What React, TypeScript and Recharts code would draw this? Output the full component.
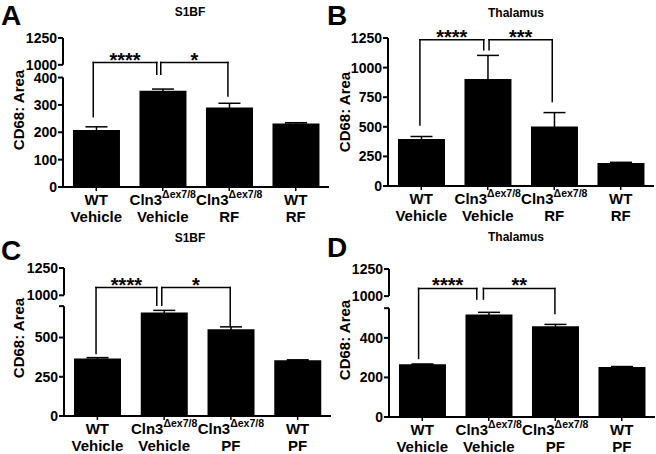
import React from 'react';
import { BarChart, Bar, XAxis, YAxis, ErrorBar, ReferenceLine } from 'recharts';

const FONT = '"Liberation Sans", Arial, Helvetica, sans-serif';

// ---- categories ----
const genotypes = ['WT', 'Cln3', 'Cln3', 'WT'];
const treatmentsRF = ['Vehicle', 'Vehicle', 'RF', 'RF'];
const treatmentsPF = ['Vehicle', 'Vehicle', 'PF', 'PF'];

// ---- series values (mean, SEM) ----
const s1bfRF = [208, 352, 291, 232];
const s1bfRFErr = [12, 6, 15, 3];
const thalRF = [396, 903, 502, 195];
const thalRFErr = [22, 200, 118, 5];
const s1bfPF = [366, 659, 553, 355];
const s1bfPFErr = [6, 14, 15, 3];
const thalPF = [266, 518, 459, 253];
const thalPFErr = [2, 11, 9, 2];

// ---- y axis ticks ----
const ticksA = [0, 100, 200, 300, 400, 1000, 1250];
const ticksB = [0, 250, 500, 750, 1000, 1250];
const ticksC = [0, 250, 500, 700, 1000, 1250];
const ticksD = [0, 200, 400, 550, 1000, 1250];
const unlabeledC = [700];
const unlabeledD = [550];

// ---- axis breaks (lower segment max, upper segment range, gap & compression in axis units) ----
type Brk = { lowMax: number; hiMin: number; hiMax: number; gap: number; hiScale: number } | null;
const breakA: Brk = { lowMax: 400, hiMin: 1000, hiMax: 1250, gap: 46.6, hiScale: 0.392 };
const breakC: Brk = { lowMax: 700, hiMin: 1000, hiMax: 1250, gap: 69, hiScale: 0.696 };
const breakD: Brk = { lowMax: 550, hiMin: 1000, hiMax: 1250, gap: 61, hiScale: 0.548 };

// ---- significance brackets: x in category units (0..4), y in axis units ----
type Bracket = { x1: number; x2: number; y1: number; y2: number; top: number; stars: string };
const bracketsA: Bracket[] = [
  { x1: 0.455, x2: 1.41, y1: 257, y2: 412, top: 455, stars: '****' },
  { x1: 1.47, x2: 2.48, y1: 412, y2: 333, top: 455, stars: '*' },
];
const bracketsB: Bracket[] = [
  { x1: 0.48, x2: 1.44, y1: 516, y2: 1151, top: 1236, stars: '****' },
  { x1: 1.52, x2: 2.47, y1: 1151, y2: 713, top: 1236, stars: '***' },
];
const bracketsC: Bracket[] = [
  { x1: 0.48, x2: 1.39, y1: 399, y2: 706, top: 818, stars: '****' },
  { x1: 1.465, x2: 2.49, y1: 706, y2: 572, top: 818, stars: '*' },
];
const bracketsD: Bracket[] = [
  { x1: 0.445, x2: 1.32, y1: 296, y2: 596, top: 650, stars: '****' },
  { x1: 1.42, x2: 2.495, y1: 596, y2: 523, top: 650, stars: '**' },
];

const toAxis = (v: number, brk: Brk) => {
  if (!brk || v <= brk.lowMax) return v;
  return brk.lowMax + brk.gap + (v - brk.hiMin) * brk.hiScale;
};

type PanelCfg = {
  letter: string;
  title: string;
  treat: string[];
  values: number[];
  errs: number[];
  ticks: number[];
  unlabeled: number[];
  brk: Brk;
  yMax: number;
  brackets: Bracket[];
  left: number;
  top: number;
  width: number;
  height: number;
  yW: number;
  mTop: number;
  mRight: number;
  xH: number;
  letterPos: [number, number];
  titlePos: [number, number];
  ylabPos: [number, number];
};

const panels: PanelCfg[] = [
  {
    letter: 'A', title: 'S1BF', treat: treatmentsRF, values: s1bfRF, errs: s1bfRFErr,
    ticks: ticksA, unlabeled: [], brk: breakA, yMax: 1250, brackets: bracketsA,
    left: 0, top: 0, width: 332, height: 224, yW: 63, mTop: 38, mRight: 3, xH: 37,
    letterPos: [1, 25], titlePos: [190, 16], ylabPos: [24, 110],
  },
  {
    letter: 'B', title: 'Thalamus', treat: treatmentsRF, values: thalRF, errs: thalRFErr,
    ticks: ticksB, unlabeled: [], brk: null, yMax: 1250, brackets: bracketsB,
    left: 326, top: 0, width: 330, height: 224, yW: 62, mTop: 38, mRight: 2, xH: 38,
    letterPos: [327, 25], titlePos: [516, 17], ylabPos: [350, 112],
  },
  {
    letter: 'C', title: 'S1BF', treat: treatmentsPF, values: s1bfPF, errs: s1bfPFErr,
    ticks: ticksC, unlabeled: unlabeledC, brk: breakC, yMax: 1250, brackets: bracketsC,
    left: 0, top: 224, width: 333, height: 230, yW: 64, mTop: 44, mRight: 2, xH: 38,
    letterPos: [1, 260], titlePos: [190, 242], ylabPos: [24, 338],
  },
  {
    letter: 'D', title: 'Thalamus', treat: treatmentsPF, values: thalPF, errs: thalPFErr,
    ticks: ticksD, unlabeled: unlabeledD, brk: breakD, yMax: 1250, brackets: bracketsD,
    left: 326, top: 224, width: 330, height: 230, yW: 63, mTop: 45, mRight: 1, xH: 37,
    letterPos: [327, 257], titlePos: [516, 241], ylabPos: [350, 340],
  },
];

function CatTick(props: any) {
  const { x, y, payload } = props;
  const [g, t] = String(payload.value).split('|');
  const common = { textAnchor: 'middle' as const, fontFamily: FONT, fontWeight: 700, fill: '#000' };
  return (
    <g>
      <text x={x} y={y + 12} fontSize={15} {...common}>
        {g === 'Cln3' ? (
          <>
            <tspan>Cln3</tspan>
            <tspan fontSize={10.5} dy={-7}>Δex7/8</tspan>
          </>
        ) : (
          g
        )}
      </text>
      <text x={x} y={y + 28.5} fontSize={15} {...common}>
        {t}
      </text>
    </g>
  );
}

function Panel({ cfg }: { cfg: PanelCfg }) {
  const data = cfg.values.map((v, i) => ({
    key: `${genotypes[i]}|${cfg.treat[i]}`,
    slot: i + 0.5,
    v,
    err: cfg.errs[i],
  }));
  const tr = (v: number) => toAxis(v, cfg.brk);
  const domMax = tr(cfg.yMax);
  const segs: [number, number][] = cfg.brk
    ? [[0, cfg.brk.lowMax], [tr(cfg.brk.hiMin), tr(cfg.brk.hiMax)]]
    : [[0, cfg.yMax]];
  const tickVals = cfg.ticks.map(tr);
  const fmt = (v: number) => {
    const t = cfg.ticks.find((tt) => Math.abs(tr(tt) - v) < 1e-6);
    if (t === undefined || cfg.unlabeled.includes(t)) return '';
    return String(t);
  };
  return (
    <div style={{ position: 'absolute', left: cfg.left, top: cfg.top }}>
      <BarChart
        width={cfg.width}
        height={cfg.height}
        data={data}
        margin={{ top: cfg.mTop, right: cfg.mRight, bottom: 0, left: 0 }}
        barCategoryGap="15%"
      >
        <XAxis
          dataKey="key"
          interval={0}
          height={cfg.xH}
          axisLine={{ stroke: '#000', strokeWidth: 2 }}
          tickLine={{ stroke: '#000', strokeWidth: 1.5 }}
          tickSize={4}
          tick={<CatTick />}
        />
        <XAxis
          xAxisId="n"
          dataKey="slot"
          type="number"
          domain={[0, data.length]}
          allowDataOverflow
          hide
        />
        <YAxis
          type="number"
          domain={[0, domMax]}
          ticks={tickVals}
          interval={0}
          width={cfg.yW}
          axisLine={false}
          tickLine={{ stroke: '#000', strokeWidth: 2 }}
          tickSize={5}
          tickMargin={1}
          tick={{ fill: '#000', fontSize: 14, fontWeight: 700, fontFamily: FONT }}
          tickFormatter={fmt}
        />
        {segs.map(([a, b], i) => (
          <ReferenceLine
            key={'ax' + i}
            xAxisId="n"
            segment={[{ x: 0, y: a }, { x: 0, y: b }]}
            stroke="#000"
            strokeWidth={2}
            ifOverflow="visible"
          />
        ))}
        <Bar dataKey="v" fill="#000" isAnimationActive={false}>
          <ErrorBar dataKey="err" width={11} stroke="#000" strokeWidth={1.5} direction="y" />
        </Bar>
        {cfg.brackets.map((b, i) => (
          <ReferenceLine
            key={'bh' + i}
            xAxisId="n"
            segment={[{ x: b.x1, y: b.top }, { x: b.x2, y: b.top }]}
            stroke="#000"
            strokeWidth={1.5}
            strokeLinecap="square"
            ifOverflow="visible"
            label={{ value: b.stars, position: 'top', offset: -4, fill: '#000', fontSize: 20, fontWeight: 700, fontFamily: FONT }}
          />
        ))}
        {cfg.brackets.map((b, i) => (
          <ReferenceLine
            key={'bl' + i}
            xAxisId="n"
            segment={[{ x: b.x1, y: b.y1 }, { x: b.x1, y: b.top }]}
            stroke="#000"
            strokeWidth={1.5}
            strokeLinecap="square"
            ifOverflow="visible"
          />
        ))}
        {cfg.brackets.map((b, i) => (
          <ReferenceLine
            key={'br' + i}
            xAxisId="n"
            segment={[{ x: b.x2, y: b.y2 }, { x: b.x2, y: b.top }]}
            stroke="#000"
            strokeWidth={1.5}
            strokeLinecap="square"
            ifOverflow="visible"
          />
        ))}
      </BarChart>
    </div>
  );
}

export default function App() {
  return (
    <div
      style={{
        position: 'absolute',
        left: 0,
        top: 0,
        width: 656,
        height: 454,
        background: '#fff',
        overflow: 'hidden',
        fontFamily: FONT,
      }}
    >
      {panels.map((p) => (
        <Panel key={p.letter} cfg={p} />
      ))}
      <svg
        width={656}
        height={454}
        style={{ position: 'absolute', left: 0, top: 0, pointerEvents: 'none' }}
      >
        {panels.map((p) => (
          <g key={'t' + p.letter} fontFamily={FONT} fontWeight={700} fill="#000">
            <text x={p.letterPos[0]} y={p.letterPos[1]} fontSize={28}>
              {p.letter}
            </text>
            <text x={p.titlePos[0]} y={p.titlePos[1]} fontSize={12} textAnchor="middle">
              {p.title}
            </text>
            <text
              transform={`translate(${p.ylabPos[0]},${p.ylabPos[1]}) rotate(-90)`}
              fontSize={15}
              textAnchor="middle"
            >
              CD68: Area
            </text>
          </g>
        ))}
      </svg>
    </div>
  );
}
